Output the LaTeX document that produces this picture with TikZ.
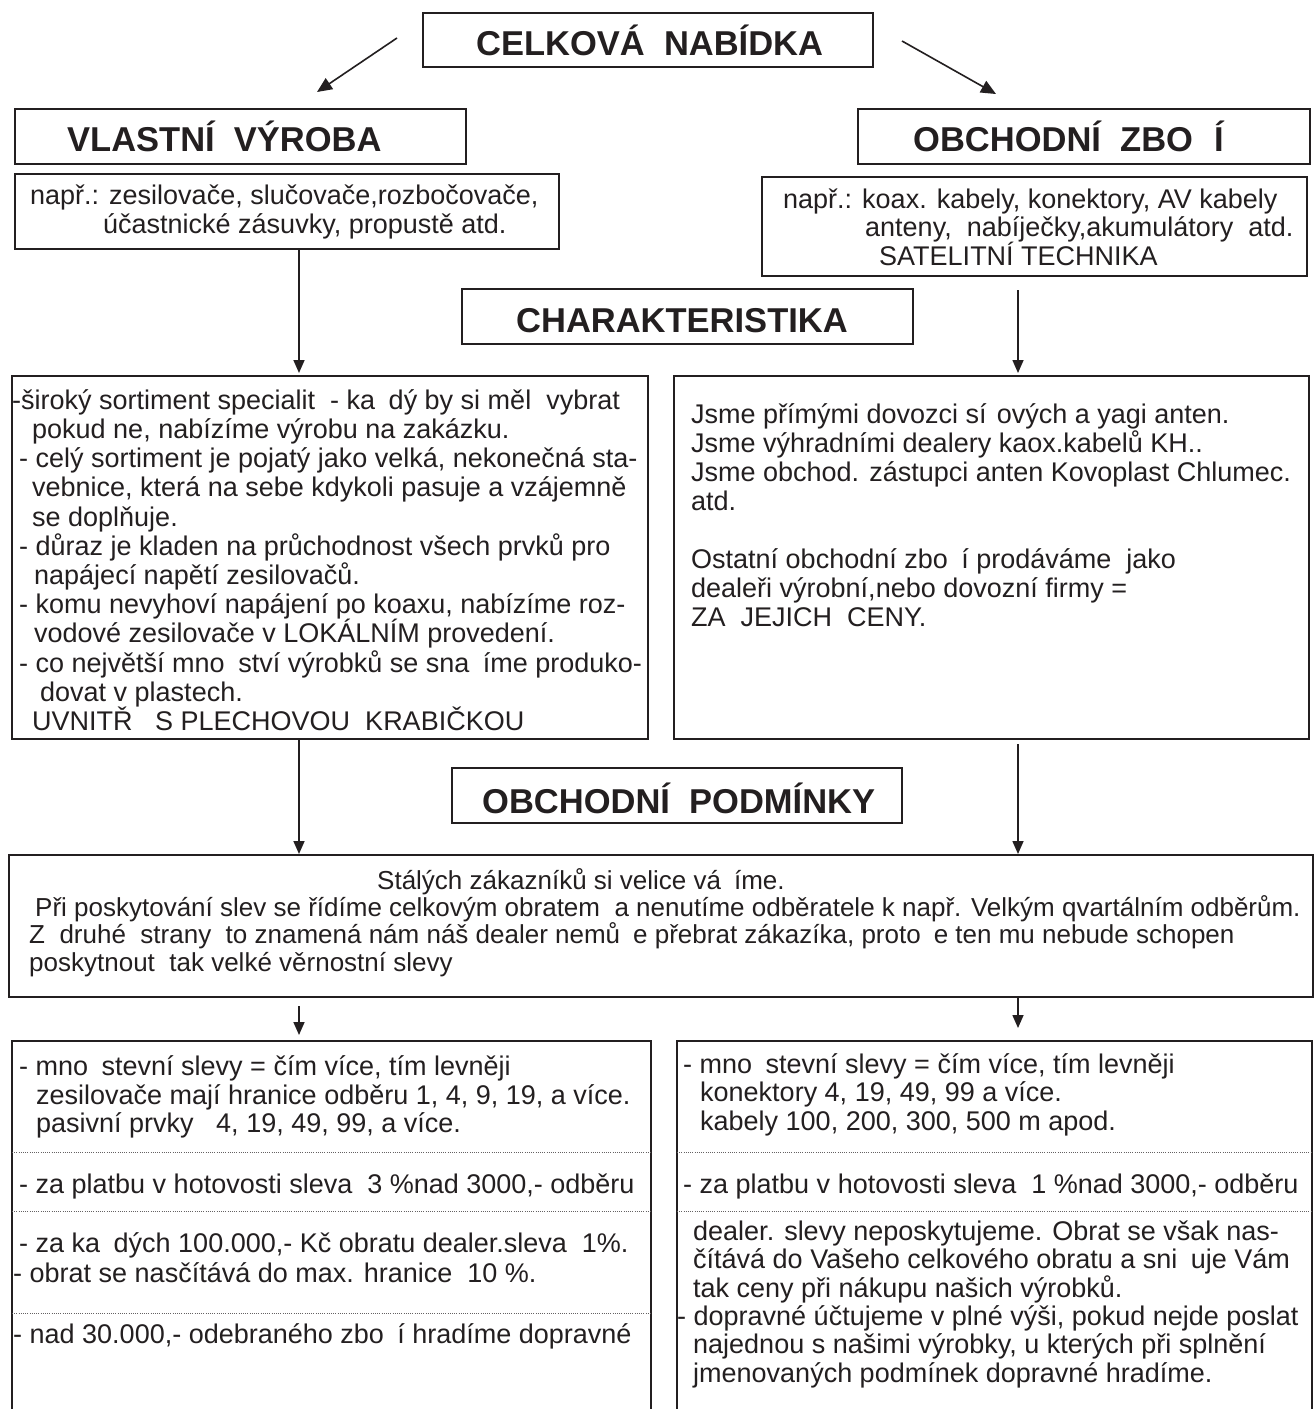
\documentclass[tikz,border=0pt]{standalone}
\usepackage{fontspec}
\setmainfont{Liberation Sans}
\usetikzlibrary{arrows.meta}
\definecolor{ink}{RGB}{35,31,32}
\newcommand\nols{\lineskiplimit=-100pt\lineskip=0pt}
\newcommand\bfz[1]{\fontsize{27}{#1}\selectfont\nols}
\newcommand\bodyf{\bfz{28.8}}
\newcommand\midf{\fontsize{26}{27.3}\selectfont\nols}
\newcommand\titf{\fontsize{34.5}{40}\selectfont\bfseries}
\newcommand\firstst{\rule{0pt}{26pt}}
\newcommand\gz{\phantom{ž}}
\begin{document}
\begin{tikzpicture}[x=1pt,y=-1pt,
  boxline/.style={draw=ink,line width=2pt},
  panel/.style={boxline,rectangle,inner sep=0pt,anchor=north west},
  ghost/.style={rectangle,inner sep=0pt,anchor=north west},
  title/.style={font=\titf,text=ink,inner sep=0pt,anchor=base west},
  txt/.style={font=\bodyf,text=ink,inner sep=0pt,anchor=north west,align=left},
  txtline/.style={font=\bodyf,text=ink,inner sep=0pt,anchor=base west},
  midtxt/.style={font=\midf,text=ink,inner sep=0pt,anchor=north west,align=left},
  arr/.style={draw=ink,line width=1.6pt,-{Triangle[length=13pt,width=11pt]}},
  darr/.style={draw=ink,line width=1.6pt,-{Triangle[length=15pt,width=13pt]}},
  dotline/.style={draw=ink!70,line width=0.8pt,dash pattern=on 0.8pt off 1.4pt}]
\fill[white] (0,0) rectangle (1314,1409);
\useasboundingbox (0,0) rectangle (1314,1409);

% boxes
\node[panel,minimum width=450,minimum height=54] (celk) at (422,12) {};
\node[panel,minimum width=451,minimum height=55] (vlast) at (14,108) {};
\node[panel,minimum width=452,minimum height=55] (zbozi) at (857,108) {};
\node[panel,minimum width=544,minimum height=75] (napL) at (14,173) {};
\node[panel,minimum width=545,minimum height=99] (napR) at (761,176) {};
\node[panel,minimum width=451,minimum height=55] (charb) at (461,288) {};
\node[panel,minimum width=636,minimum height=363] (leftbig) at (11,375) {};
\node[panel,minimum width=635,minimum height=363] (rightbig) at (673,375) {};
\node[panel,minimum width=450,minimum height=55] (podm) at (451,767) {};
\node[panel,minimum width=1304,minimum height=142] (wide) at (8,854) {};
\node[ghost,minimum width=639,minimum height=368] (botL) at (12,1041) {};
\node[ghost,minimum width=635,minimum height=368] (botR) at (677,1041) {};
\draw[boxline] (botL.south west) -- (botL.north west) -- (botL.north east) -- (botL.south east);
\draw[boxline] (botR.south west) -- (botR.north west) -- (botR.north east) -- (botR.south east);

% dotted separators
\coordinate (d1) at (0,1152);
\coordinate (d2) at (0,1211);
\coordinate (d3) at (0,1313);
\draw[dotline] (botL.west |- d1) -- (botL.east |- d1);
\draw[dotline] (botL.west |- d2) -- (botL.east |- d2);
\draw[dotline] (botL.west |- d3) -- (botL.east |- d3);
\draw[dotline] (botR.west |- d1) -- (botR.east |- d1);
\draw[dotline] (botR.west |- d2) -- (botR.east |- d2);

% titles
\node[title] (tcelk) at (476,55) {CELKOVÁ~~NABÍDKA};
\node[title] (tvlast) at (67,151) {VLASTNÍ~~VÝROBA};
\node[title] (tzbozi) at (913,151) {OBCHODNÍ~~ZBO\phantom{Ž}Í};
\node[title] (tchar) at (516,332) {CHARAKTERISTIKA};
\node[title] (tpodm) at (482,813) {OBCHODNÍ~~PODMÍNKY};

% texts
\node[txt,font={\bfz{29}}] (xnapL) at (30,178) {\firstst např.: zesilovače, slučovače,rozbočovače,\\
\hspace*{73pt}účastnické zásuvky, propustě atd.};
\node[txt,font={\bfz{28.5}}] (xnapR) at (783,182) {\firstst např.: koax. kabely, konektory, AV kabely\\
\hspace*{82pt}anteny,~~nabíječky,akumulátory~~atd.\\
\hspace*{96pt}SATELITNÍ TECHNIKA};
\node[txt,font={\bfz{29.2}}] (xleft) at (12,383) {\firstst-široký sortiment specialit~~- ka\gz dý by si měl~~vybrat\\
\hspace*{20pt}pokud ne, nabízíme výrobu na zakázku.\\
\hspace*{7pt}- celý sortiment je pojatý jako velká, nekonečná sta-\\
\hspace*{20pt}vebnice, která na sebe kdykoli pasuje a vzájemně\\
\hspace*{20pt}se doplňuje.\\
\hspace*{7pt}- důraz je kladen na průchodnost všech prvků pro\\
\hspace*{22pt}napájecí napětí zesilovačů.\\
\hspace*{7pt}- komu nevyhoví napájení po koaxu, nabízíme roz-\\
\hspace*{22pt}vodové zesilovače v LOKÁLNÍM provedení.\\
\hspace*{7pt}- co největší mno\gz ství výrobků se sna\gz íme produko-\\
\hspace*{28pt}dovat v plastech.\\
\hspace*{20pt}UVNITŘ~~~S PLECHOVOU~~KRABIČKOU};
\node[txt,font={\bfz{29}}] (xright) at (691,397) {\firstst Jsme přímými dovozci sí\phantom{ť}ových a yagi anten.\\
Jsme výhradními dealery kaox.kabelů KH..\\
Jsme obchod. zástupci anten Kovoplast Chlumec.\\
atd.\\[29pt]
Ostatní obchodní zbo\gz í prodáváme~~jako\\
dealeři výrobní,nebo dovozní firmy =\\
ZA~~JEJICH~~CENY.};
\node[midtxt] (xmid) at (29,863) {\firstst\hspace*{348pt}Stálých zákazníků si velice vá\gz íme.\\
\hspace*{6pt}Při poskytování slev se řídíme celkovým obratem~~a nenutíme odběratele k např. Velkým qvartálním odběrům.\\
Z~~druhé~~strany~~to znamená nám náš dealer nemů\gz e přebrat zákazíka, proto\gz e ten mu nebude schopen\\
poskytnout~~tak velké věrnostní slevy};

\node[txt] (xbl1) at (19,1049) {\firstst- mno\gz stevní slevy = čím více, tím levněji\\
\hspace*{17pt}zesilovače mají hranice odběru 1, 4, 9, 19, a více.\\
\hspace*{17pt}pasivní prvky~~~4, 19, 49, 99, a více.};
\node[txtline] (xbl2) at (19,1193) {- za platbu v hotovosti sleva~~3 \%nad 3000,- odběru};
\node[txt,font={\bfz{30}}] (xbl3) at (13,1226) {\firstst\hspace*{6pt}- za ka\gz dých 100.000,- Kč obratu dealer.sleva~~1\%.\\
- obrat se nasčítává do max. hranice~~10 \%.};
\node[txtline] (xbl4) at (13,1343) {- nad 30.000,- odebraného zbo\gz í hradíme dopravné};

\node[txt,font={\bfz{28.5}}] (xbr1) at (683,1047) {\firstst- mno\gz stevní slevy = čím více, tím levněji\\
\hspace*{17pt}konektory 4, 19, 49, 99 a více.\\
\hspace*{17pt}kabely 100, 200, 300, 500 m apod.};
\node[txtline] (xbr2) at (683,1193) {- za platbu v hotovosti sleva~~1 \%nad 3000,- odběru};
\node[txt,font={\bfz{28.4}}] (xbr3) at (677,1214) {\firstst\hspace*{16pt}dealer. slevy neposkytujeme. Obrat se však nas-\\
\hspace*{16pt}čítává do Vašeho celkového obratu a sni\gz uje Vám\\
\hspace*{16pt}tak ceny při nákupu našich výrobků.\\
- dopravné účtujeme v plné výši, pokud nejde poslat\\
\hspace*{16pt}najednou s našimi výrobky, u kterých při splnění\\
\hspace*{16pt}jmenovaných podmínek dopravné hradíme.};

% connectors
\coordinate (xl) at (299,0);
\coordinate (xr) at (1018,0);
\coordinate (a1s) at (397,38);
\coordinate (a1e) at (317,92);
\coordinate (a2s) at (902,41);
\coordinate (a2e) at (996,94);
\draw[darr] (a1s) -- (a1e);
\draw[darr] (a2s) -- (a2e);
\draw[arr,shorten >=2pt] (napL.south -| xl) -- (leftbig.north -| xl);
\draw[arr,shorten <=13pt,shorten >=2pt] (napR.south -| xr) -- (rightbig.north -| xr);
\draw[arr] (leftbig.south -| xl) -- (wide.north -| xl);
\draw[arr,shorten <=4pt] (rightbig.south -| xr) -- (wide.north -| xr);
\draw[arr,shorten <=8pt,shorten >=6pt] (wide.south -| xl) -- (botL.north -| xl);
\draw[arr,shorten >=13pt] (wide.south -| xr) -- (botR.north -| xr);
\end{tikzpicture}
\end{document}
